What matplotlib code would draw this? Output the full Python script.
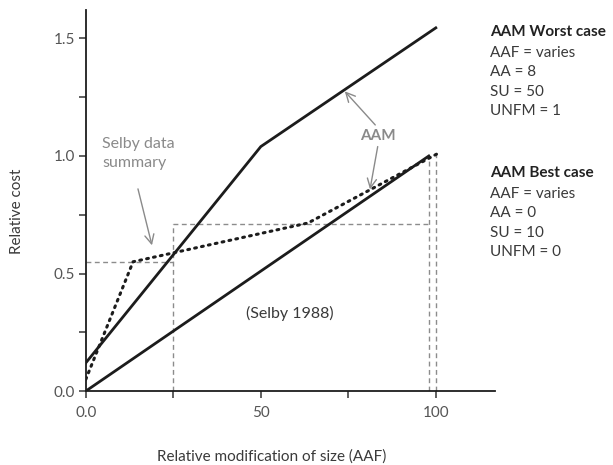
import matplotlib
matplotlib.use('Agg')
import matplotlib.pyplot as plt

# ── Style ────────────────────────────────────────────────────────────────────
INK   = '#1c1c1c'
TEXT  = '#3a3a3a'
GREY  = '#8a8a8a'
GUIDE = '#8c8c8c'

plt.rcParams.update({
    'font.family': ['Lato', 'DejaVu Sans'],
    'font.weight': 'normal',
    'font.size': 11,
})

# ── Data ─────────────────────────────────────────────────────────────────────
worst_x = [0, 50, 100]
worst_y = [0.12, 1.04, 1.545]

best_x = [0, 98]
best_y = [0.0, 1.0]

selby_x = [0, 13.5, 63.5, 100.5]
selby_y = [0.05, 0.55, 0.715, 1.01]

# dashed guides: (x0, y0, x1, y1)
guides = [
    (0, 0.55, 25, 0.55),
    (25, 0.0, 25, 0.71),
    (25, 0.71, 98, 0.71),
    (98, 0.0, 98, 0.99),
    (100, 0.0, 100, 1.01),
]

x_ticks = [0, 25, 50, 75, 100]
x_labels = ['0.0', '', '50', '', '100']
y_ticks = [0.0, 0.25, 0.5, 0.75, 1.0, 1.25, 1.5]
y_labels = ['0.0', '', '0.5', '', '1.0', '', '1.5']

worst_note = ['AAF = varies', 'AA = 8', 'SU = 50', 'UNFM = 1']
best_note = ['AAF = varies', 'AA = 0', 'SU = 10', 'UNFM = 0']

# ── Figure ───────────────────────────────────────────────────────────────────
fig = plt.figure(figsize=(6.13, 4.65), dpi=100)
ax = fig.add_axes([0.140, 0.159, 0.668, 0.819])
ax.set_xlim(0, 117)
ax.set_ylim(0, 1.62)

for x0, y0, x1, y1 in guides:
    ax.plot([x0, x1], [y0, y1], color=GUIDE, lw=1.0, ls=(0, (3.5, 2.5)), zorder=1)

ax.plot(worst_x, worst_y, color=INK, lw=2.0, solid_joinstyle='miter', zorder=3)
ax.plot(best_x, best_y, color=INK, lw=2.0, zorder=3)
ax.plot(selby_x, selby_y, color=INK, lw=2.2, ls=(0, (0.6, 1.7)),
        dash_capstyle='round', zorder=3)

# annotations
arrow_kw = dict(arrowstyle='->,head_length=0.6,head_width=0.3', color=GREY, lw=1.0,
                shrinkA=0, shrinkB=0)
ax.text(4.6, 1.08, 'Selby data\nsummary', color=GREY, va='top', ha='left',
        linespacing=1.45, fontsize=11.5)
ax.annotate('', xy=(18.9, 0.62), xytext=(14.9, 0.86), arrowprops=arrow_kw)

ax.text(83.5, 1.085, 'AAM', color=GREY, fontweight='bold', ha='center', va='center')
ax.annotate('', xy=(74.0, 1.275), xytext=(82.7, 1.132), arrowprops=arrow_kw)
ax.annotate('', xy=(81.2, 0.858), xytext=(83.4, 1.04), arrowprops=arrow_kw)

ax.text(58.4, 0.332, '(Selby 1988)', color=TEXT, ha='center', va='center',
        fontsize=11.5)

# axes styling
for s in ('top', 'right'):
    ax.spines[s].set_visible(False)
for s in ('left', 'bottom'):
    ax.spines[s].set_color(INK)
    ax.spines[s].set_linewidth(1.3)

ax.set_xticks(x_ticks)
ax.set_xticklabels(x_labels)
ax.set_yticks(y_ticks)
ax.set_yticklabels(y_labels)
ax.tick_params(axis='both', length=5, width=1.2, color='#444444', labelcolor='#555555',
               labelsize=11)
ax.tick_params(axis='x', pad=6)
ax.tick_params(axis='y', pad=3)

fig.text(0.444, 0.019, 'Relative modification of size (AAF)', color=TEXT,
         fontsize=11, ha='center', va='center')
fig.text(0.028, 0.546, 'Relative cost', color=TEXT, fontsize=11,
         rotation=90, ha='center', va='center')

# side notes
def note(y_top, title, rows):
    fig.text(0.799, 1 - y_top / 465, title, fontweight='bold', color='#222222',
             va='center', ha='left', fontsize=11)
    for i, r in enumerate(rows):
        fig.text(0.799, 1 - (y_top + 21 + 19.3 * i) / 465, r, color=TEXT,
                 va='center', ha='left', fontsize=11)

note(32, 'AAM Worst case', worst_note)
note(173, 'AAM Best case', best_note)

fig.savefig('out.png', dpi=100)
